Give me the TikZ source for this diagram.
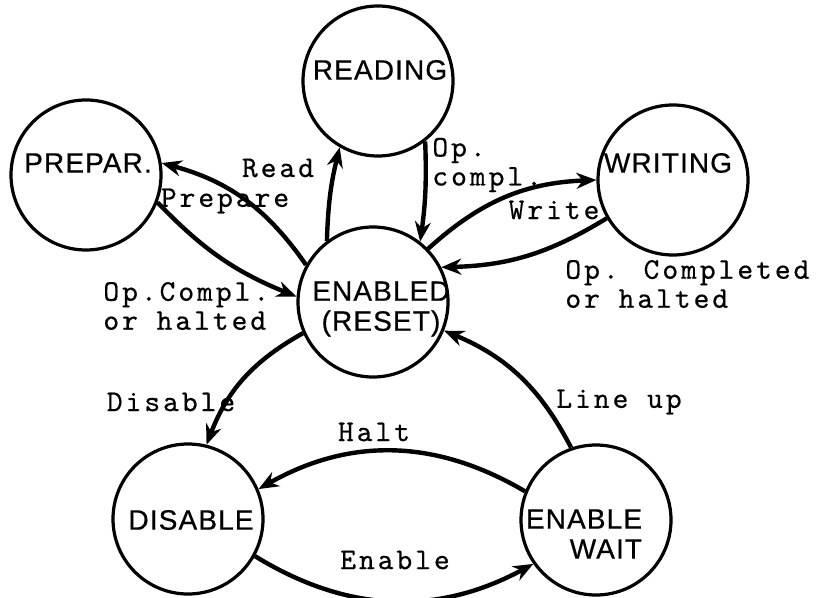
\documentclass[tikz,border=0pt]{standalone}
\usepackage{fontspec}
\setmainfont{Liberation Sans}[LetterSpace=4, FakeBold=0.6]
\newfontfamily\lblfont{lmmono10-regular.otf}[LetterSpace=10, FakeBold=0.5]
\usetikzlibrary{arrows.meta}

\tikzset{
  state/.style={circle, draw, line width=1.6pt, minimum size=75pt, inner sep=0pt},
  stname/.style={font=\fontsize{14}{15}\selectfont, align=center, inner sep=0pt},
  lbl/.style={font=\lblfont\fontsize{15}{14.5}\selectfont, inner sep=0pt, align=left},
  conn/.style={line width=2.2pt, -{Stealth[length=10pt, width=8pt]}},
}

\begin{document}
\begin{tikzpicture}[x={(0.5pt,0pt)}, y={(0pt,-0.5pt)}]
  \useasboundingbox (0,0) rectangle (817,598);

  % states
  \node[state, label={[stname, xshift=1pt, yshift=6pt]center:PREPAR.}] (prep) at (86,175) {};
  \node[state, label={[stname, xshift=1pt, yshift=5.5pt]center:READING}] (read) at (378,81) {};
  \node[state, label={[stname, xshift=-2.5pt, yshift=8.5pt]center:WRITING}] (writ) at (673,180) {};
  \node[state, label={[stname, xshift=4pt, yshift=-3.5pt]center:ENABLED\\(RESET)}] (enab) at (373,302) {};
  \node[state, label={[stname, xshift=1.5pt, yshift=-0.5pt]center:DISABLE}] (disab) at (188,519) {};
  \node[state, label={[stname, align=right, xshift=-6pt, yshift=-7pt]center:ENABLE\\WAIT}] (wait) at (596,520) {};

  % transitions
  \draw[conn] (enab.151) to[bend right=20] (prep.9);
  \draw[conn] (prep.-21) to[bend right=12] (enab.176);
  \draw[conn] (enab.127) to[bend left=6] (read.240);
  \draw[conn] (read.308) to[bend left=5] (enab.52);
  \draw[conn] (enab.44) to[bend left=20] (writ.180);
  \draw[conn] (writ.210) to[bend left=15] (enab.27);
  \draw[conn] (enab.204) to[bend right=20] (disab.76);
  \draw[conn] (wait.109) to[bend right=20] (enab.338);
  \draw[conn] (wait.158) to[bend right=30] (disab.23);
  \draw[conn] (disab.331) to[bend right=30] (wait.215);

  % labels
  \node[lbl] (lread) at (278,168) {Read};
  \node[lbl] (lprep) at (225,201) {Prepare};
  \node[lbl, anchor=west] (lpdone) at (103,306) {Op.Compl.\\or halted};
  \node[lbl, anchor=west] (lrdone) at (432,165) {Op.\\compl.};
  \node[lbl] (lwrite) at (554,210) {Write};
  \node[lbl, anchor=west] (lwdone) at (565,284) {Op. Completed\\or halted};
  \node[lbl] (ldis) at (171,402) {Disable};
  \node[lbl] (lline) at (619,402) {Line up};
  \node[lbl] (lhalt) at (374,432) {Halt};
  \node[lbl] (lena) at (395,560) {Enable};
\end{tikzpicture}
\end{document}
